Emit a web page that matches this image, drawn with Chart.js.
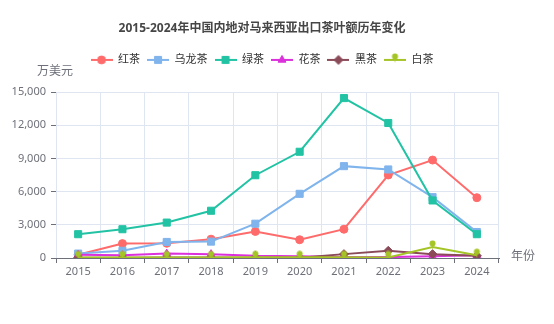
<!DOCTYPE html>
<html><head><meta charset="utf-8">
<script src="https://cdn.jsdelivr.net/npm/chart.js@4.4.1/dist/chart.umd.min.js"></script>
<style>html,body{margin:0;padding:0;background:#fff}#wrap{width:554px;height:324px}</style>
</head><body><div id="wrap"><canvas id="c" width="554" height="324"></canvas></div>
<script>
// ---- data ----
const years = ['2015','2016','2017','2018','2019','2020','2021','2022','2023','2024'];
const seriesNames = ['红茶','乌龙茶','绿茶','花茶','黑茶','白茶'];
const hongcha   = [300, 1300, 1330, 1700, 2400, 1650, 2600, 7500, 8850, 5450];
const wulongcha = [400, 650, 1450, 1480, 3100, 5800, 8300, 8000, 5500, 2350];
const lvcha     = [2150, 2600, 3200, 4270, 7480, 9600, 14450, 12200, 5200, 2150];
const huacha    = [300, 250, 400, 350, 200, 150, 80, 80, 150, 250];
const heicha    = [30, 30, 40, 40, 30, 20, 350, 650, 350, 200];
const baicha    = [50, 50, 50, 50, 60, 60, 60, 50, 1000, 250];
const yMax = 15000, yStep = 3000;
const titleText = '2015-2024年中国内地对马来西亚出口茶叶额历年变化';
const yName = '万美元', xName = '年份';

// ---- styles ----
const FONT = "'Noto Sans', 'Noto Sans CJK SC', sans-serif";
const colors = ['#ff6b6b', '#80b4ec', '#22c3a4', '#dc30dc', '#8b4a58', '#a5c426'];
const styles = ['circle', 'rect', 'rect', 'triangle', 'rectRot', 'pin'];
const radii = [4, 5, 5, 4.5, 4.5, 0];

function makePin(color) {
  const c = document.createElement('canvas'); c.width = 9; c.height = 14;
  const x = c.getContext('2d');
  x.fillStyle = color;
  x.beginPath(); x.arc(4.5, 3.5, 3, 0, Math.PI * 2); x.fill();
  x.beginPath(); x.moveTo(3.5, 5); x.lineTo(5.5, 5); x.lineTo(4.5, 10); x.closePath(); x.fill();
  return c;
}
const pin = makePin(colors[5]);

function makeIcon(i) {
  const c = document.createElement('canvas'); c.width = 22; c.height = 14;
  const x = c.getContext('2d');
  x.strokeStyle = colors[i]; x.fillStyle = colors[i]; x.lineWidth = 2;
  x.beginPath(); x.moveTo(0, 7); x.lineTo(22, 7); x.stroke();
  if (styles[i] === 'pin') {
    x.drawImage(pin, 11 - 4.5, 0);
  } else {
    x.lineWidth = 1;
    Chart.helpers.drawPoint(x, {pointStyle: styles[i], radius: radii[i], borderWidth: 1, rotation: 0}, 11, 7);
  }
  return c;
}

const seriesData = [hongcha, wulongcha, lvcha, huacha, heicha, baicha];
const datasets = seriesData.map((d, i) => ({
  label: seriesNames[i],
  data: d,
  borderColor: colors[i],
  backgroundColor: colors[i],
  borderWidth: 2,
  tension: 0,
  pointStyle: styles[i] === 'pin' ? pin : styles[i],
  pointRadius: radii[i] || 4,
  pointBorderWidth: 1,
  pointBorderColor: colors[i],
  pointBackgroundColor: colors[i],
  order: seriesData.length - 1 - i
}));
const icons = seriesNames.map((_, i) => makeIcon(i));

const axisNames = {
  id: 'axisNames',
  afterDraw(chart) {
    const ctx = chart.ctx;
    ctx.save();
    ctx.fillStyle = '#6e7079';
    ctx.font = '12px ' + FONT;
    ctx.textBaseline = 'middle';
    ctx.textAlign = 'center';
    ctx.fillText(yName, chart.chartArea.left - 1, chart.chartArea.top - 20);
    ctx.textAlign = 'left';
    ctx.fillText(xName, chart.chartArea.right + 12, chart.chartArea.bottom - 1);
    ctx.restore();
  }
};

new Chart(document.getElementById('c'), {
  type: 'line',
  data: {labels: years, datasets},
  plugins: [axisNames],
  options: {
    responsive: false,
    animation: false,
    layout: {padding: {left: 0, right: 30, top: 0, bottom: 0}},
    plugins: {
      title: {
        display: true, text: titleText, color: '#464646',
        font: {family: FONT, size: 12, weight: 'bold'},
        padding: {top: 21, bottom: 12}
      },
      legend: {
        display: true,
        labels: {
          usePointStyle: true, pointStyleWidth: 22, boxHeight: 11, padding: 7,
          color: '#333', font: {family: FONT, size: 11},
          generateLabels(chart) {
            const items = Chart.defaults.plugins.legend.labels.generateLabels(chart);
            items.sort((a, b) => a.datasetIndex - b.datasetIndex);
            items.forEach(it => { it.pointStyle = icons[it.datasetIndex]; it.fontColor = '#333'; });
            return items;
          }
        }
      },
      tooltip: {enabled: false}
    },
    scales: {
      x: {
        type: 'category', offset: true,
        grid: {offset: true, color: '#e0e6f1', tickColor: '#6e7079', tickLength: 5, drawTicks: true},
        border: {display: true, color: '#6e7079', width: 1},
        ticks: {color: '#6e7079', font: {family: FONT, size: 11}, padding: 2, maxRotation: 0, autoSkip: false},
        afterFit(s) { s.height = 66; }
      },
      xTop: {
        type: 'category', position: 'top', labels: years,
        grid: {display: false}, ticks: {display: false}, border: {display: false},
        afterFit(s) { s.height = 16.6; }
      },
      y: {
        min: 0, max: yMax,
        grid: {color: '#e0e6f1', tickColor: '#6e7079', tickLength: 5, drawTicks: true},
        border: {display: false},
        ticks: {
          stepSize: yStep, color: '#6e7079', font: {family: FONT, size: 11}, padding: 5,
          callback: v => Number(v).toLocaleString('en-US')
        },
        afterFit(s) { s.width = 56; }
      },
      yRight: {
        position: 'right', min: 0, max: yMax,
        grid: {display: false}, ticks: {display: false}, border: {display: false},
        afterFit(s) { s.width = 25; }
      }
    }
  }
});
</script></body></html>
